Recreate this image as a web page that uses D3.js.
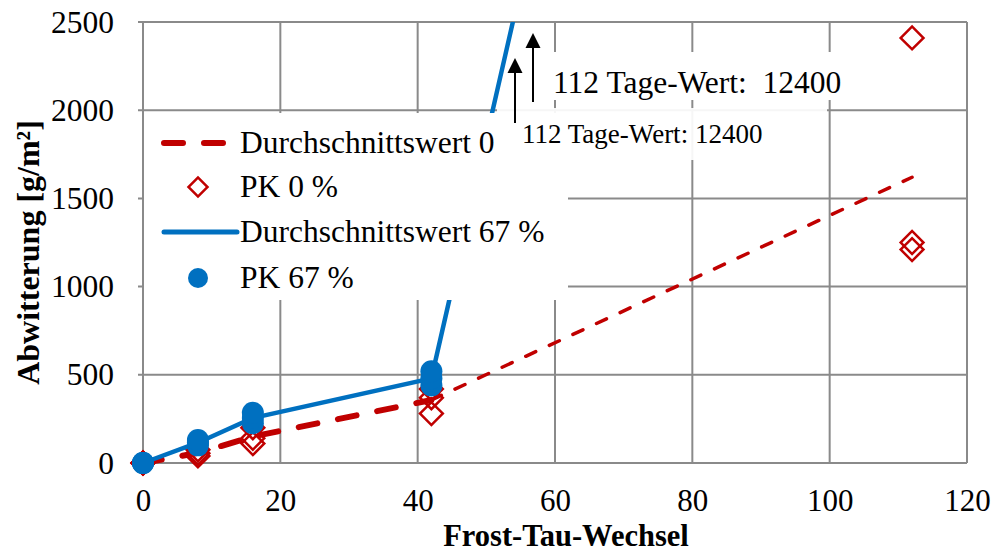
<!DOCTYPE html>
<html>
<head>
<meta charset="utf-8">
<script src="https://cdn.jsdelivr.net/npm/d3@7"></script>
<style>
  body { margin: 0; background: #fff; }
  text { font-family: "Liberation Serif", "Times New Roman", serif; fill: #000; }
</style>
</head>
<body>
<div id="chart"></div>
<script>
var margin = {top: 22, right: 27, bottom: 90, left: 143},
    width = 994 - margin.left - margin.right,
    height = 553 - margin.top - margin.bottom

// Frost-Tau-Wechsel
var cycles = [0, 8, 16, 42, 112];
// PK 0 % single specimens
var pk0 = [[0, 0, 0], [40, 55, 75], [110, 140, 200], [280, 370, 420], [1210, 1250, 2410]];
// Durchschnittswert 0
var mean0 = [0, 57, 150, 357, 1620];
// PK 67 % single specimens (112 values are off the chart)
var pk67 = [[0, 0, 0], [100, 115, 130], [225, 255, 285], [440, 480, 520]];
// Durchschnittswert 67 %
var mean67 = [0, 115, 255, 480, 12400];

var xTicks = [0, 20, 40, 60, 80, 100, 120];
var yTicks = [0, 500, 1000, 1500, 2000, 2500];
var legendLabels = ["Durchschnittswert 0", "PK 0 %", "Durchschnittswert 67 %", "PK 67 %"];
var noteLabel = "112 Tage-Wert: 12400";

var red = "#c00000", blue = "#0070c0", grid = "#8a8a8a";
var serif = "'Liberation Serif', 'Times New Roman', serif";

var svg = d3.select("#chart")
    .append("svg")
        .attr("width", 994)
        .attr("height", 553)
    .append("g")
        .attr("transform", "translate(" + margin.left + "," + margin.top + ")");

var x = d3.scaleLinear().domain([0, 120]).range([0, width]);
var y = d3.scaleLinear().domain([0, 2500]).range([height, 0]);

svg.append("clipPath").attr("id", "clip")
    .append("rect").attr("x", -15).attr("y", 0).attr("width", width + 15).attr("height", height + 15);

// gridlines
svg.selectAll(".vgrid").data(xTicks).enter().append("line")
    .attr("x1", d => x(d)).attr("x2", d => x(d))
    .attr("y1", 0).attr("y2", height)
    .attr("stroke", grid).attr("stroke-width", 2);
svg.selectAll(".hgrid").data(yTicks).enter().append("line")
    .attr("x1", -5).attr("x2", width)
    .attr("y1", d => y(d)).attr("y2", d => y(d))
    .attr("stroke", grid).attr("stroke-width", 2);

// axes (labels only, lines are the grid)
var xAxis = svg.append("g")
    .attr("transform", "translate(0," + height + ")")
    .attr("font-family", serif)
    .call(d3.axisBottom(x).tickValues(xTicks).tickSize(0).tickFormat(d3.format("d")));
xAxis.select(".domain").remove();
xAxis.selectAll("text").style("font-size", "31px").attr("dy", null).attr("y", 48);

var yAxis = svg.append("g")
    .attr("font-family", serif)
    .call(d3.axisLeft(y).tickValues(yTicks).tickSize(0).tickPadding(29).tickFormat(d3.format("d")));
yAxis.select(".domain").remove();
yAxis.selectAll("text").style("font-size", "31.5px");

svg.append("text")
    .attr("text-anchor", "middle")
    .attr("x", width / 2 + 11)
    .attr("y", height + 83)
    .style("font-size", "30.5px").style("font-weight", "bold")
    .text("Frost-Tau-Wechsel");

svg.append("text")
    .attr("text-anchor", "middle")
    .attr("transform", "translate(" + (-104) + "," + (height / 2 + 10) + ") rotate(-90)")
    .style("font-size", "32px").style("font-weight", "bold")
    .text("Abwitterung [g/m²]");

var plot = svg.append("g").attr("clip-path", "url(#clip)");

// mean 0: thick dashed up to 42, thinner dashed afterwards
var line = d3.line().x(d => x(d[0])).y(d => y(d[1]));
var m0 = cycles.map((c, i) => [c, mean0[i]]);
plot.append("path")
    .attr("d", line(m0.slice(0, 4)))
    .attr("fill", "none").attr("stroke", red).attr("stroke-width", 6)
    .attr("stroke-linecap", "round").attr("stroke-dasharray", "19,21");
plot.append("path")
    .attr("d", line(m0.slice(3)))
    .attr("fill", "none").attr("stroke", red).attr("stroke-width", 3.5)
    .attr("stroke-linecap", "round").attr("stroke-dasharray", "11,15");

var diamond = d3.symbol().type(d3.symbolSquare).size(260);
var pts0 = [];
pk0.forEach((vals, i) => vals.forEach(v => pts0.push([cycles[i], v])));
plot.selectAll(".pk0").data(pts0).enter().append("path")
    .attr("d", diamond)
    .attr("transform", d => "translate(" + x(d[0]) + "," + y(d[1]) + ") rotate(45)")
    .attr("fill", "none").attr("stroke", red).attr("stroke-width", 2.5);

plot.append("path")
    .attr("d", line(cycles.map((c, i) => [c, mean67[i]])))
    .attr("fill", "none").attr("stroke", blue).attr("stroke-width", 4.5);

var pts67 = [];
pk67.forEach((vals, i) => vals.forEach(v => pts67.push([cycles[i], v])));
plot.selectAll(".pk67").data(pts67).enter().append("circle")
    .attr("cx", d => x(d[0])).attr("cy", d => y(d[1]))
    .attr("r", 11).attr("fill", blue);

// legend
var leg = svg.append("g");
leg.append("rect").attr("x", 1).attr("y", 91).attr("width", 424).attr("height", 187).attr("fill", "#fff");
var rowY = [121, 165, 210, 256];
leg.append("line").attr("x1", 21).attr("x2", 92).attr("y1", rowY[0]).attr("y2", rowY[0])
    .attr("stroke", red).attr("stroke-width", 6).attr("stroke-linecap", "round").attr("stroke-dasharray", "19,21");
leg.append("path").attr("d", d3.symbol().type(d3.symbolSquare).size(180))
    .attr("transform", "translate(55," + rowY[1] + ") rotate(45)")
    .attr("fill", "none").attr("stroke", red).attr("stroke-width", 2.5);
leg.append("line").attr("x1", 21).attr("x2", 94).attr("y1", rowY[2]).attr("y2", rowY[2])
    .attr("stroke", blue).attr("stroke-width", 5).attr("stroke-linecap", "round");
leg.append("circle").attr("cx", 55).attr("cy", rowY[3]).attr("r", 10).attr("fill", blue);
leg.selectAll(".ltxt").data(legendLabels).enter().append("text")
    .attr("x", 97).attr("y", (d, i) => rowY[i] + 10)
    .style("font-size", "31.5px")
    .text(d => d);

// annotations
var ann = svg.append("g");
ann.append("rect").attr("x", 354).attr("y", 86).attr("width", 330).attr("height", 52)
    .attr("fill", "#fff").attr("opacity", 0.92);
ann.append("rect").attr("x", 402).attr("y", 30).attr("width", 305).attr("height", 48).attr("fill", "#fff");

function arrow(ax, y1, y2) {
    ann.append("line").attr("x1", ax).attr("x2", ax).attr("y1", y1).attr("y2", y2 + 12)
        .attr("stroke", "#000").attr("stroke-width", 2);
    ann.append("path")
        .attr("d", "M" + ax + "," + y2 + "L" + (ax - 7.5) + "," + (y2 + 15) + "L" + (ax + 7.5) + "," + (y2 + 15) + "Z")
        .attr("fill", "#000");
}
arrow(390, 80, 11);
arrow(372, 101, 36);

ann.append("text").attr("x", 410).attr("y", 71)
    .style("font-size", "31.5px").style("white-space", "pre")
    .text(noteLabel.replace(": ", ":  "));
ann.append("text").attr("x", 379).attr("y", 121)
    .style("font-size", "27px")
    .text(noteLabel);
</script>
</body>
</html>
